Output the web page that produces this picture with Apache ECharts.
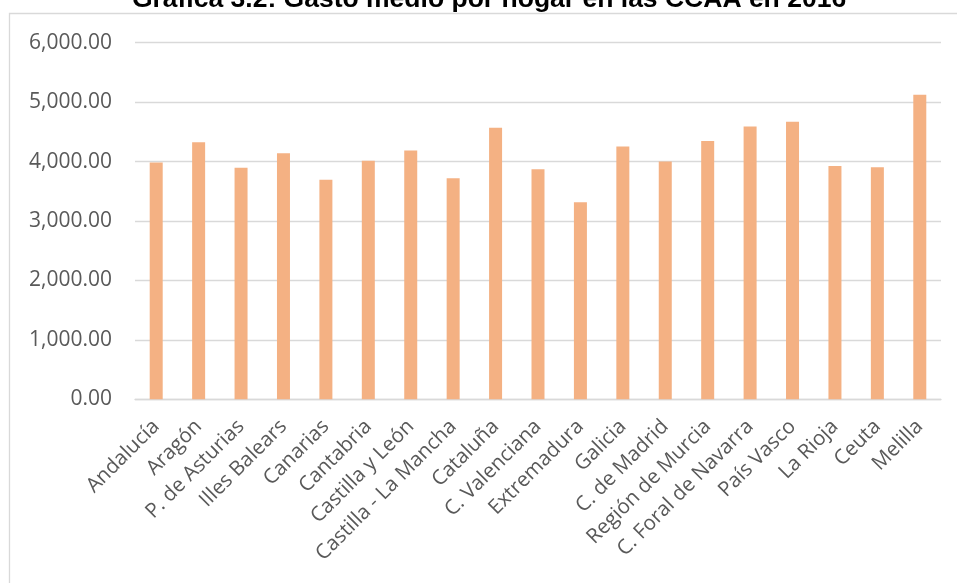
<!DOCTYPE html>
<html>
<head>
<meta charset="utf-8">
<script src="https://cdn.jsdelivr.net/npm/echarts@6/dist/echarts.min.js"></script>
<style>
html,body{margin:0;padding:0;background:#fff;}
#chart{width:957px;height:583px;}
</style>
</head>
<body>
<div id="chart"></div>
<script>
var titleText = 'Gráfica 3.2: Gasto medio por hogar en las CCAA en 2016';
var categories = ['Andalucía','Aragón','P. de Asturias','Illes Balears','Canarias','Cantabria','Castilla y León','Castilla - La Mancha','Cataluña','C. Valenciana','Extremadura','Galicia','C. de Madrid','Región de Murcia','C. Foral de Navarra','País Vasco','La Rioja','Ceuta','Melilla'];
var values = [3983,4326,3894,4141,3692,4012,4186,3720,4567,3872,3316,4253,4000,4348,4589,4668,3927,3906,5123];
var yTicks = [0,1000,2000,3000,4000,5000,6000];

var chart = echarts.init(document.getElementById('chart'), null, {renderer:'canvas'});
chart.setOption({
  animation:false,
  backgroundColor:'#ffffff',
  graphic:[
    {type:'rect', shape:{x:9.5,y:13.5,width:1200,height:1200}, style:{fill:null,stroke:'#D9D9D9',lineWidth:1.3}, silent:true},
    {type:'text', x:489, y:13.5, style:{text:titleText, fill:'#000000', font:'bold 26.5px "Liberation Sans", Arial, sans-serif', align:'center', verticalAlign:'bottom'}, silent:true}
  ],
  grid:{left:135, right:16, top:42.7, bottom:183.7, containLabel:false},
  xAxis:{
    type:'category',
    data:categories,
    axisLine:{show:true,lineStyle:{color:'#D9D9D9',width:1.3}},
    axisTick:{show:false},
    axisLabel:{interval:0, rotate:45, margin:24, color:'#595959', fontFamily:'Open Sans', fontSize:20.5}
  },
  yAxis:{
    type:'value',
    min:yTicks[0], max:yTicks[yTicks.length-1], interval:1000,
    axisLine:{show:false}, axisTick:{show:false},
    splitLine:{lineStyle:{color:'#D9D9D9',width:1.3}},
    axisLabel:{margin:23, color:'#595959', fontFamily:'Open Sans', fontSize:21,
      formatter:function(v){return v.toLocaleString('en-US',{minimumFractionDigits:2,maximumFractionDigits:2});}}
  },
  series:[{
    type:'bar',
    data:values,
    barWidth:13,
    itemStyle:{color:'#F4B183'}
  }]
});
</script>
</body>
</html>
